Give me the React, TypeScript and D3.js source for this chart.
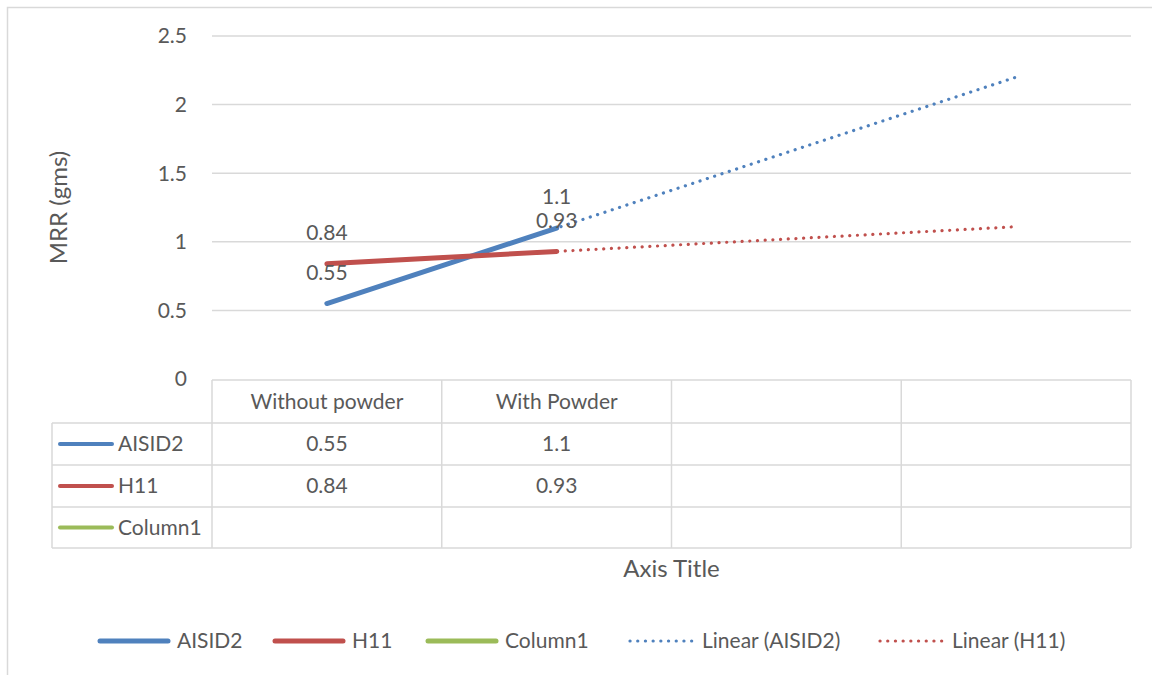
import React from "react";
import * as d3 from "d3";

const categories = ["Without powder", "With Powder", "", ""];
const aisid2 = [0.55, 1.1];
const h11 = [0.84, 0.93];
const yTicks = [0, 0.5, 1, 1.5, 2, 2.5];
const seriesNames = ["AISID2", "H11", "Column1"];
const seriesColors = ["#4F81BD", "#C0504D", "#9BBB59"];
const legendItems = [
  { name: "AISID2", color: "#4F81BD", dotted: false },
  { name: "H11", color: "#C0504D", dotted: false },
  { name: "Column1", color: "#9BBB59", dotted: false },
  { name: "Linear (AISID2)", color: "#4F81BD", dotted: true },
  { name: "Linear (H11)", color: "#C0504D", dotted: true },
];

const W = 1152, H = 675;
const FONT = "Lato, 'Open Sans', sans-serif";
const FS = 21;
const FS_TITLE = 24;
const TXT = "#595959";
const GRID = "#d9d9d9";

function linReg(vals: number[]) {
  const xs = vals.map((_, i) => i + 1);
  const mx = d3.mean(xs)!, my = d3.mean(vals)!;
  let num = 0, den = 0;
  xs.forEach((x, i) => { num += (x - mx) * (vals[i] - my); den += (x - mx) ** 2; });
  const b = num / den;
  const a = my - b * mx;
  return (x: number) => a + b * x;
}

export default function App() {
  const left = 212, right = 1131, top = 36, bottom = 379;
  const x = d3.scaleBand<number>().domain(categories.map((_, i) => i)).range([left, right]).padding(0);
  const y = d3.scaleLinear().domain([0, 2.5]).range([bottom, top]);
  const cx = (i: number) => x(i)! + x.bandwidth() / 2;
  const line = d3.line<[number, number]>().x(d => cx(d[0])).y(d => y(d[1]));

  const series = [aisid2, h11];
  const trends = series.map(s => {
    const f = linReg(s);
    return categories.map((_, i) => [i, f(i + 1)] as [number, number]);
  });

  const rowH = 42;
  const tableTop = bottom + 1;
  const rows = [tableTop, tableTop + 43, tableTop + 43 + rowH, tableTop + 43 + 2 * rowH, tableTop + 43 + 3 * rowH - 1];
  const tableLeft = 52;
  const colLines = categories.map((_, i) => x(i)!).concat([right]);

  const legendX = [100, 275, 428, 630, 880];
  const legendY = 641;

  return (
    <svg width={W} height={H} style={{ position: "absolute", left: 0, top: 0, background: "#fff" }} fontFamily={FONT}>
      <rect x={7.5} y={7.5} width={W + 10} height={H + 10} fill="#fff" stroke={GRID} strokeWidth={1.5} />
      {/* gridlines */}
      {yTicks.filter(t => t > 0).map(t => (
        <line key={t} x1={left} x2={right} y1={y(t)} y2={y(t)} stroke={GRID} strokeWidth={1.5} />
      ))}
      {/* y tick labels */}
      {yTicks.map(t => (
        <text key={t} x={187} y={y(t)} dy="0.35em" textAnchor="end" fontSize={FS} fill={TXT}>{t}</text>
      ))}
      <text transform={`translate(59,${(top + bottom) / 2}) rotate(-90)`} textAnchor="middle" dy="0.35em" fontSize={FS_TITLE} fill={TXT}>MRR (gms)</text>

      {/* table */}
      <g stroke={GRID} strokeWidth={1.5}>
        <line x1={left} x2={right} y1={rows[0]} y2={rows[0]} />
        {rows.slice(1).map((r, i) => (
          <line key={i} x1={tableLeft} x2={right} y1={r} y2={r} />
        ))}
        {colLines.map((c, i) => (
          <line key={i} x1={c} x2={c} y1={rows[0]} y2={rows[4]} />
        ))}
        <line x1={tableLeft} x2={tableLeft} y1={rows[1]} y2={rows[4]} />
      </g>
      {categories.map((c, i) => (
        <text key={i} x={cx(i)} y={(rows[0] + rows[1]) / 2} dy="0.35em" textAnchor="middle" fontSize={FS} fill={TXT}>{c}</text>
      ))}
      {seriesNames.map((n, r) => (
        <g key={n}>
          <line x1={60} x2={112} y1={(rows[r + 1] + rows[r + 2]) / 2} y2={(rows[r + 1] + rows[r + 2]) / 2} stroke={seriesColors[r]} strokeWidth={4} strokeLinecap="round" />
          <text x={118} y={(rows[r + 1] + rows[r + 2]) / 2} dy="0.35em" fontSize={FS} fill={TXT}>{n}</text>
          {(series[r] || []).map((v, i) => (
            <text key={i} x={cx(i)} y={(rows[r + 1] + rows[r + 2]) / 2} dy="0.35em" textAnchor="middle" fontSize={FS} fill={TXT}>{v}</text>
          ))}
        </g>
      ))}

      {/* trendlines */}
      {trends.map((t, k) => (
        <path key={k} d={line(t)!} fill="none" stroke={seriesColors[k]} strokeWidth={3.2} strokeDasharray="0.1 7.6" strokeLinecap="round" />
      ))}
      {/* series lines */}
      {series.map((s, k) => (
        <path key={k} d={line(s.map((v, i) => [i, v] as [number, number]))!} fill="none" stroke={seriesColors[k]} strokeWidth={5} strokeLinecap="round" />
      ))}
      {/* data labels */}
      {series.map((s, k) => s.map((v, i) => (
        <text key={`${k}-${i}`} x={cx(i)} y={y(v) - 31} dy="0.35em" textAnchor="middle" fontSize={FS} fill={TXT}>{v}</text>
      )))}

      <text x={(left + right) / 2} y={569} dy="0.35em" textAnchor="middle" fontSize={FS_TITLE} fill={TXT}>Axis Title</text>

      {/* legend */}
      {legendItems.map((it, i) => (
        <g key={it.name}>
          <line x1={legendX[i]} x2={legendX[i] + (it.dotted ? 62 : 68)} y1={legendY} y2={legendY} stroke={it.color}
            strokeWidth={it.dotted ? 3.2 : 5} strokeLinecap="round" strokeDasharray={it.dotted ? "0.1 7.6" : undefined} />
          <text x={legendX[i] + (it.dotted ? 72 : 77)} y={legendY} dy="0.35em" fontSize={FS} fill={TXT}>{it.name}</text>
        </g>
      ))}
    </svg>
  );
}
